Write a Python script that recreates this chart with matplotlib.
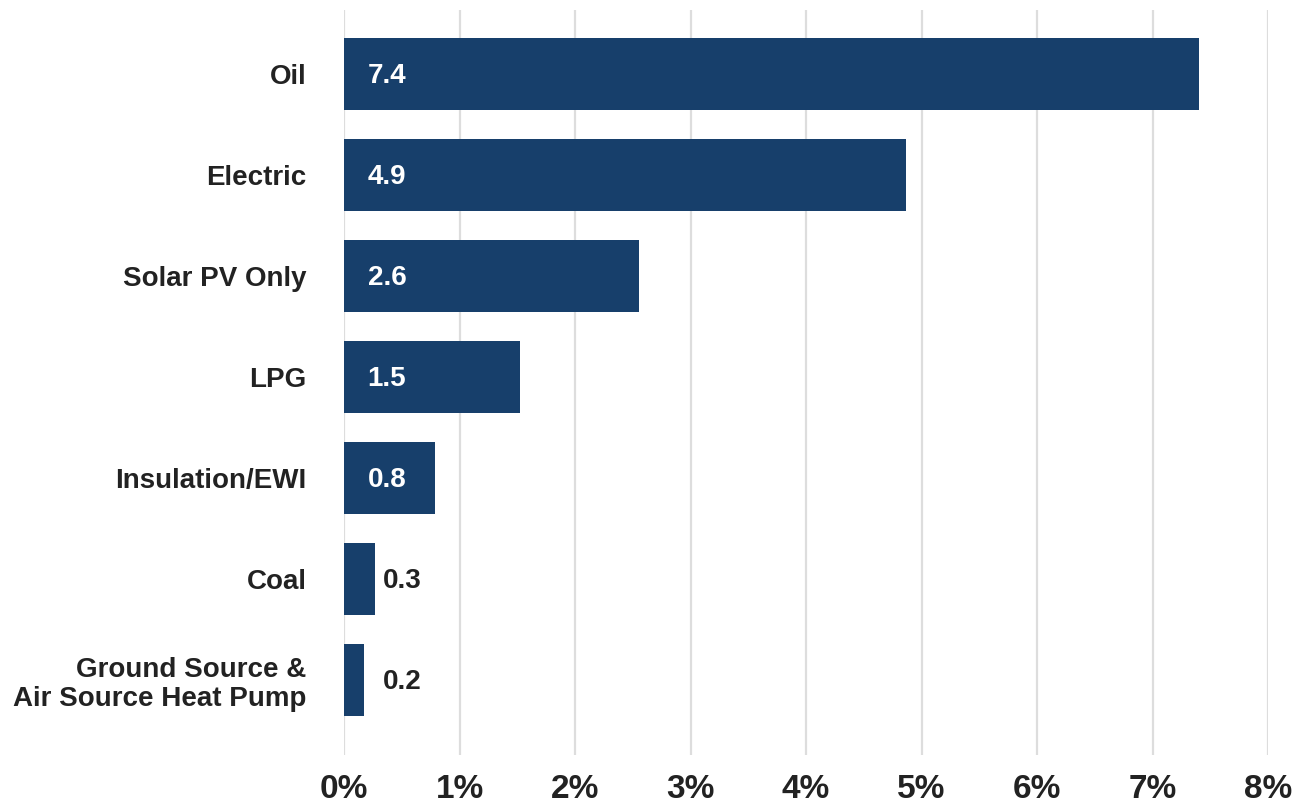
import matplotlib.pyplot as plt

categories = ["Oil", "Electric", "Solar PV Only", "LPG", "Insulation/EWI",
              "Coal", "Ground Source &\nAir Source Heat Pump"]
values = [7.4, 4.87, 2.55, 1.52, 0.79, 0.27, 0.17]
value_labels = ["7.4", "4.9", "2.6", "1.5", "0.8", "0.3", "0.2"]
xticks = [0, 1, 2, 3, 4, 5, 6, 7, 8]
xtick_labels = ["%d%%" % t for t in xticks]

plt.rcParams["font.family"] = ["Liberation Sans", "DejaVu Sans"]
plt.rcParams["font.weight"] = "bold"

fig = plt.figure(figsize=(13.08, 8.07), dpi=100)
ax = fig.add_axes([344 / 1308, 1 - 755 / 807, (1268 - 344) / 1308, (755 - 10) / 807])

bar_color = "#173f6b"
ypos = list(range(len(categories)))
ax.barh(ypos, values, height=0.71, color=bar_color, zorder=3)

for y, v, lab in zip(ypos, values, value_labels):
    if v > 0.5:
        ax.text(0.205, y + 0.02, lab, color="white", fontsize=20, fontweight="bold",
                va="center", ha="left", zorder=4)
    else:
        ax.text(0.34, y + 0.02, lab, color="#222222", fontsize=20, fontweight="bold",
                va="center", ha="left", zorder=4)

ax.set_ylim(len(categories) - 1 + 0.74, -0.634)
ax.set_xlim(0, 8)
ax.set_yticks(ypos)
ax.set_yticklabels(categories, fontsize=20, fontweight="bold", color="#222222",
                   linespacing=1.15)
ax.set_xticks(xticks)
ax.set_xticklabels(xtick_labels, fontsize=24, fontweight="bold", color="#222222")
ax.tick_params(axis="both", length=0)
ax.tick_params(axis="y", pad=27)
ax.tick_params(axis="x", pad=14)
ax.grid(axis="x", color="#dddddd", linewidth=1.6, zorder=0)
for s in ax.spines.values():
    s.set_visible(False)

fig.savefig("out.png", dpi=100)
